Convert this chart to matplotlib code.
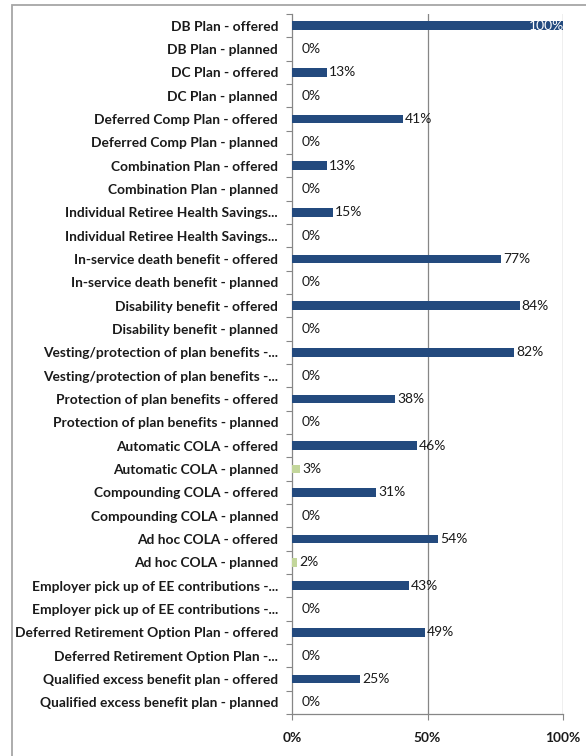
import matplotlib
matplotlib.use("Agg")
import matplotlib.pyplot as plt
from matplotlib.patches import Rectangle
import numpy as np

plt.rcParams["font.family"] = ["Lato", "DejaVu Sans"]

categories = [
    "DB Plan - offered",
    "DB Plan - planned",
    "DC Plan - offered",
    "DC Plan - planned",
    "Deferred Comp Plan - offered",
    "Deferred Comp Plan - planned",
    "Combination Plan - offered",
    "Combination Plan - planned",
    "Individual Retiree Health Savings...",
    "Individual Retiree Health Savings...",
    "In-service death benefit - offered",
    "In-service death benefit - planned",
    "Disability benefit - offered",
    "Disability benefit - planned",
    "Vesting/protection of plan benefits -...",
    "Vesting/protection of plan benefits -...",
    "Protection of plan benefits - offered",
    "Protection of plan benefits - planned",
    "Automatic COLA - offered",
    "Automatic COLA - planned",
    "Compounding COLA - offered",
    "Compounding COLA - planned",
    "Ad hoc COLA - offered",
    "Ad hoc COLA - planned",
    "Employer pick up of EE contributions -...",
    "Employer pick up of EE contributions -...",
    "Deferred Retirement Option Plan - offered",
    "Deferred Retirement Option Plan -...",
    "Qualified excess benefit plan - offered",
    "Qualified excess benefit plan - planned",
]
values = [100, 0, 13, 0, 41, 0, 13, 0, 15, 0, 77, 0, 84, 0, 82, 0,
          38, 0, 46, 3, 31, 0, 54, 2, 43, 0, 49, 0, 25, 0]
# every other row is a "planned" row
kinds = ["offered" if i % 2 == 0 else "planned" for i in range(len(categories))]
x_ticks = [0, 50, 100]
x_tick_labels = ["0%", "50%", "100%"]

blue = "#234A7E"
green = "#C3D69B"
grey = "#868686"

fig = plt.figure(figsize=(5.86, 7.56), dpi=100)
fig.patches.append(Rectangle((12 / 586, -0.1), 1.2, 0.1 + 1 - 5 / 756,
                             transform=fig.transFigure, fill=False,
                             edgecolor="#A6A6A6", linewidth=1.3))

ax = fig.add_axes([292 / 586, 1 - 714 / 756, (563 - 292) / 586, (714 - 14) / 756])

n = len(categories)
ypos = np.arange(n)
colors = [blue if k == "offered" else green for k in kinds]
ax.barh(ypos, values, height=0.38, color=colors, edgecolor="none", zorder=3)

ax.set_xlim(0, 100)
ax.set_ylim(n - 0.5, -0.5)

for y, v in zip(ypos, values):
    label = f"{v}%"
    if v >= 100:
        ax.annotate(label, (v, y), xytext=(0.5, 0), textcoords="offset points",
                    ha="right", va="center", color="white", fontsize=10, zorder=4)
    elif v == 0:
        ax.annotate(label, (v, y), xytext=(7, 0), textcoords="offset points",
                    ha="left", va="center", color="#1a1a1a", fontsize=10, zorder=4)
    else:
        ax.annotate(label, (v, y), xytext=(1.5, 0), textcoords="offset points",
                    ha="left", va="center", color="#1a1a1a", fontsize=10, zorder=4)

ax.set_yticks(ypos)
ax.set_yticklabels(categories, fontweight="bold", fontsize=9.9, color="#1a1a1a")
ax.set_yticks(np.arange(-0.5, n, 1.0), minor=True)
ax.tick_params(axis="y", which="major", length=0, pad=10)
ax.tick_params(axis="y", which="minor", length=4, width=0.8, color=grey, direction="out")

ax.set_xticks(x_ticks)
ax.set_xticklabels(x_tick_labels, fontweight="bold", fontsize=9.9, color="#1a1a1a")
ax.tick_params(axis="x", which="major", length=4, width=0.8, color=grey, direction="out", pad=9)

for x in [50, 100]:
    ax.axvline(x, color=grey, linewidth=0.9, zorder=1)

for side in ["top", "right"]:
    ax.spines[side].set_visible(False)
for side in ["left", "bottom"]:
    ax.spines[side].set_color(grey)
    ax.spines[side].set_linewidth(0.9)

fig.savefig("out.png", dpi=100, facecolor="white")
